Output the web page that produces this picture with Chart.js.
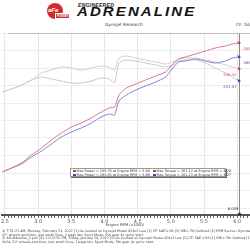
<!DOCTYPE html>
<html><head><meta charset="utf-8">
<script src="https://cdn.jsdelivr.net/npm/chart.js@4.4.1/dist/chart.umd.min.js"></script>
<style>
html,body{margin:0;padding:0;width:250px;height:250px;overflow:hidden;background:#fff;font-family:"DejaVu Sans",sans-serif;}
#wrap{position:relative;width:250px;height:250px;overflow:hidden;}
.abs{position:absolute;white-space:nowrap;}
#logoC{left:47px;top:3px;width:16px;height:16px;border-radius:50%;background:#d42a2a;}
#logoT{left:48px;top:7px;font:bold italic 6px "Liberation Sans",sans-serif;color:#fff;}
#logoP{left:55px;top:13px;background:#d42a2a;color:#fff;font:bold italic 3px "Liberation Sans";padding:0 1px;border:0.5px solid #fff;}
#eng{left:78px;top:2px;font:bold italic 5px "Liberation Sans",sans-serif;letter-spacing:0.3px;color:#222;}
#adr{left:77px;top:5px;font:bold italic 15px "Liberation Sans",sans-serif;letter-spacing:2.1px;color:#111;transform:scaleY(0.8);transform-origin:left top;}
#dyno{left:105px;top:22px;font:4.3px "DejaVu Sans";color:#444;}
#cf{left:236px;top:22px;font:4.3px "DejaVu Sans";color:#444;}
#topline{left:8px;top:33px;width:250px;height:1px;background:#bdbdbd;}
#legend{left:70px;top:168px;width:156px;height:9px;border:1px solid #9a9a9a;box-shadow:1px 1px 0 #666;background:#fff;font:3.4px "DejaVu Sans";color:#333;padding:0 0 0 2px;box-sizing:border-box;}
#legend div{height:4px;line-height:4px;}
.sq{display:inline-block;width:2.5px;height:2.5px;margin-right:1px;vertical-align:middle;}
#xt{left:0;width:250px;top:222px;text-align:center;font:3.8px "DejaVu Sans";color:#444;}
#foot{left:2px;top:230px;font:3.3px "DejaVu Sans";color:#444;line-height:3.6px;}
canvas{position:absolute;left:0;top:33px;}
</style></head>
<body><div id="wrap">
<div class="abs" id="logoC"></div><div class="abs" id="logoT">aFe</div><div class="abs" id="logoP">POWER</div>
<div class="abs" id="eng">ENGINEERED</div>
<div class="abs" id="adr">ADRENALINE</div>
<div class="abs" id="dyno">Dynojet Research</div>
<div class="abs" id="cf">CF: SAE</div>
<canvas id="c" width="262" height="194"></canvas>
<div class="abs" id="topline"></div>
<div class="abs" id="legend">
<div><span class="sq" style="background:#d04040"></span>Max Power = 285.70 at Engine RPM = 5.98 &nbsp; <span class="sq" style="background:#d04040"></span>Max Torque = 267.12 at Engine RPM = 4.29</div>
<div><span class="sq" style="background:#4040c0"></span>Max Power = 265.63 at Engine RPM = 5.99 &nbsp; <span class="sq" style="background:#4040c0"></span>Max Torque = 261.23 at Engine RPM = 4.27</div>
</div>
<div class="abs" id="xt">Engine RPM (x1000)</div>
<div class="abs" id="foot">1) 7:51:21 AM, Monday, February 21, 2022 [1] de located on Dynojet Model 424x2 Low [1] CF: SAE 0.99 [1] SMO: 5th Defined [1] RPM Source: Dynoware RT RMT [1] Low cal: consecutive<br>20" wheels and tires, less small lines, 1 bags fan, Sport Mode, 5th gear 4x (prior start<br>2) 4th-Baseline_3.pull [4]: 12:12:50 PM, Friday, January 28, 2022 [1] de located on Dynojet Model 424x2 Low [1] CF: SAE 0.99 [1] SMO: 5th Defined [1] RPM Source: Dynoware RT RMT<br>4x2d, 20" wheels and tires, less small lines, 1 bags fan, Sport Mode, 5th gear 4x (prior start</div>
</div>
<script>
const rpm = [2.46,2.60,2.75,2.90,3.05,3.20,3.35,3.50,3.65,3.80,3.95,4.07,4.15,4.22,4.33,4.47,4.62,4.77,4.92,5.03,5.12,5.22,5.37,5.52,5.67,5.82,5.93,6.03];
const power1 = [101.4,107.1,114.3,125.7,135.7,147.1,157.1,165.7,171.4,178.6,187.1,192.9,194.3,211.4,221.4,227.1,232.9,238.6,244.3,255.7,262.9,265.7,270.0,274.3,278.6,281.4,284.3,285.7];
const power2 = [101.4,107.1,112.9,122.9,131.4,141.4,151.4,158.6,164.3,171.4,180.0,184.3,182.9,202.9,211.4,218.6,224.3,230.0,237.1,250.0,258.6,260.0,262.9,260.0,257.1,260.0,264.3,265.7];
const torque1 = [215.7,220.0,225.7,232.9,242.9,247.1,251.4,250.0,247.1,250.0,252.9,251.4,247.1,264.3,267.1,264.3,261.4,258.6,255.7,258.6,262.9,264.3,264.3,261.4,258.6,254.3,251.4,248.6];
const torque2 = [215.7,220.0,225.7,232.9,237.1,234.3,231.4,228.6,228.6,231.4,235.7,234.3,228.6,257.1,261.4,260.0,257.1,254.3,251.4,254.3,260.0,261.4,261.4,257.1,250.0,242.9,237.1,231.4];
const cursorRpm = 6.029;
const cursorVals = [285.72, 265.70, 248.41, 231.57];
const cursorLabels = ["285.72","265.70","248.41","231.57"];
const xTickLabels = ["2.5","3.0","3.5","4.0","4.5","5.0","5.5","6.0"];

const cols = ['rgb(214,120,132)','rgb(130,130,210)','rgb(226,196,202)','rgb(196,198,222)'];
const markCols = ['#d43030','#3535c0','#d43030','#3535c0'];
const series = [power1, power2, torque1, torque2];

const cursorPlugin = {
  id:'cursor',
  afterDatasetsDraw(chart){
    const {ctx, chartArea, scales:{x,y}} = chart;
    const px = Math.round(x.getPixelForValue(cursorRpm))+0.5;
    ctx.save();
    ctx.strokeStyle='#8a8a8a'; ctx.lineWidth=1;
    ctx.beginPath(); ctx.moveTo(px, chartArea.top); ctx.lineTo(px, chartArea.bottom); ctx.stroke();
    ctx.font='3.8px "DejaVu Sans"';
    cursorVals.forEach((v,i)=>{
      const py = y.getPixelForValue(v);
      ctx.fillStyle=markCols[i];
      ctx.beginPath(); ctx.moveTo(px-2,py-2); ctx.lineTo(px+1.5,py); ctx.lineTo(px-1,py+1.5); ctx.closePath(); ctx.fill();
      ctx.fillStyle = i%2===0 ? '#d05050' : '#5050b0';
      if(i<2){ ctx.textAlign='left'; ctx.fillText(cursorLabels[i], px+4, py+7); }
      else { ctx.textAlign='right'; ctx.fillText(cursorLabels[i], px-3, py+7); }
    });
    ctx.fillStyle='#333'; ctx.textAlign='right';
    ctx.fillText(cursorRpm.toFixed(3), px-1, chartArea.bottom-5);
    ctx.beginPath(); ctx.arc(px, chartArea.bottom-1, 1.5, 0, Math.PI*2); ctx.fill();
    ctx.restore();
  }
};

const isMajor = v => Math.abs(v*2 - Math.round(v*2)) < 1e-6;

new Chart(document.getElementById('c'), {
  type:'line',
  data:{ datasets: series.map((s,i)=>({
    data: rpm.map((r,j)=>({x:r, y:s[j]})),
    borderColor: cols[i], borderWidth: 1, pointRadius:0, tension:0.25, fill:false
  }))},
  options:{
    responsive:false, animation:false, events:[],
    layout:{padding:0},
    plugins:{legend:{display:false}, tooltip:{enabled:false}},
    scales:{
      x:{ type:'linear', min:2.455, max:6.374,
        afterFit(s){ s.height = 12; },
        ticks:{ stepSize:0.05, includeBounds:false, autoSkip:false, maxTicksLimit:1000, maxRotation:0, padding:1,
          font:{size:5, family:'DejaVu Sans'}, color:'#555',
          callback(v){ if(!isMajor(v)) return ''; const i = Math.round((v-2.5)*2); return xTickLabels[i] ?? ''; } },
        grid:{ color: c => (c.tick && isMajor(c.tick.value)) ? '#e6e6e6' : 'rgba(0,0,0,0)', tickLength:3, tickColor:'#666', lineWidth:1 },
        border:{ display:true, color:'#555', width:2 }
      },
      y:{ type:'linear', min:40, max:300,
        afterFit(s){ s.width = 0; },
        ticks:{ display:false, stepSize:25, includeBounds:false },
        grid:{ color:'#ececec', drawTicks:false },
        border:{ display:false }
      }
    }
  },
  plugins:[cursorPlugin]
});
</script>
</body></html>
